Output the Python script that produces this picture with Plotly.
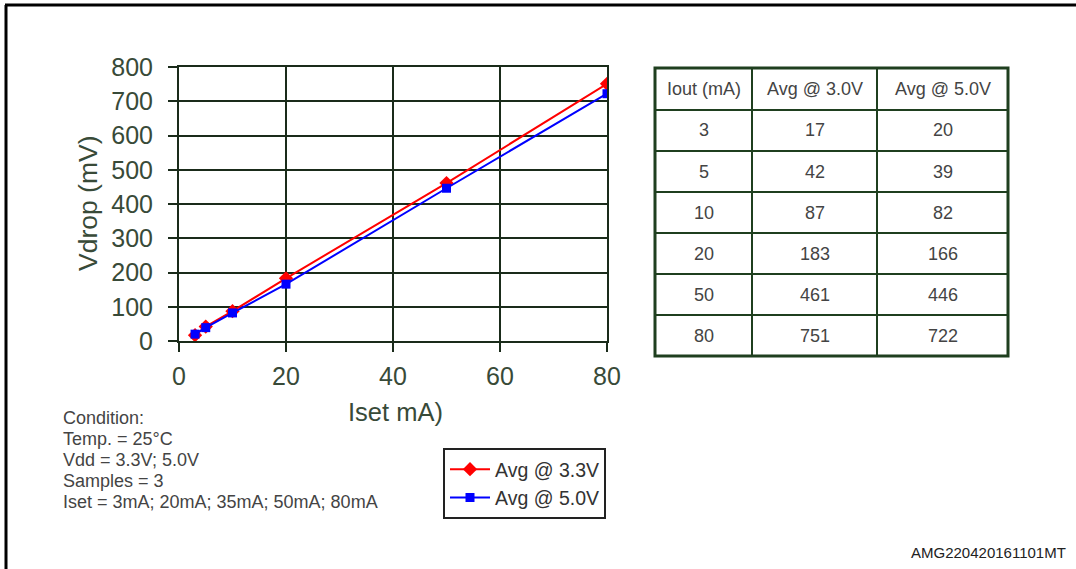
import plotly.graph_objects as go

iset = [3, 5, 10, 20, 50, 80]
avg_33 = [17, 42, 87, 183, 461, 751]
avg_50 = [20, 39, 82, 166, 446, 722]
x_ticks = [0, 20, 40, 60, 80]
y_ticks = [0, 100, 200, 300, 400, 500, 600, 700, 800]
table_header = ["Iout (mA)", "Avg @ 3.0V", "Avg @ 5.0V"]
table_iout = ["3", "5", "10", "20", "50", "80"]
table_avg30 = ["17", "42", "87", "183", "461", "751"]
table_avg50 = ["20", "39", "82", "166", "446", "722"]
condition_lines = ["Condition:", "Temp. = 25°C", "Vdd = 3.3V; 5.0V", "Samples = 3",
                   "Iset = 3mA; 20mA; 35mA; 50mA; 80mA"]

W, H = 1076, 569
FONT = "Liberation Sans, Arial, sans-serif"
GRID = "#1a2b1a"
TICKC = "#384a38"
TBL = "#1f3f1f"
TXT = "#444444"

def px(x):
    return x / W

def py(y):
    return 1 - y / H

fig = go.Figure()
fig.add_trace(go.Scatter(x=iset, y=avg_33, mode="lines+markers", name="Avg @ 3.3V",
                         legendgroup="a",
                         line=dict(color="#ff0000", width=2),
                         marker=dict(symbol="diamond", size=11, color="#ff0000")))
fig.add_trace(go.Scatter(x=iset, y=avg_50, mode="lines+markers", name="Avg @ 5.0V",
                         legendgroup="b",
                         line=dict(color="#0000ff", width=2),
                         marker=dict(symbol="square", size=9, color="#0000ff")))

fig.update_xaxes(range=[0, 80], tickvals=x_ticks, showgrid=True, gridcolor=GRID, gridwidth=2,
                 zeroline=False, showline=True, linecolor=GRID, linewidth=2, mirror=True,
                 ticks="outside", ticklen=9, tickwidth=2, tickcolor=GRID, automargin=False,
                 tickfont=dict(family=FONT, size=25, color=TICKC), ticklabelstandoff=3,
                 domain=[px(179), px(607)])
fig.update_yaxes(range=[0, 800], tickvals=y_ticks, showgrid=True, gridcolor=GRID, gridwidth=2,
                 zeroline=False, showline=True, linecolor=GRID, linewidth=2, mirror=True,
                 ticks="outside", ticklen=9, tickwidth=2, tickcolor=GRID, automargin=False,
                 tickfont=dict(family=FONT, size=25, color=TICKC), ticklabelstandoff=10,
                 domain=[py(341), py(67)])

annotations = [
    dict(text="Vdrop (mV)", x=px(88), y=py(204), textangle=-90,
         xanchor="center", yanchor="middle",
         font=dict(family=FONT, size=26.5, color=TICKC)),
    dict(text="Iset mA)", x=px(395), y=py(412), xanchor="center", yanchor="middle",
         font=dict(family=FONT, size=25.5, color=TICKC)),
    dict(text="AMG220420161101MT", x=px(1068), y=py(552), xanchor="right", yanchor="middle",
         font=dict(family=FONT, size=15, color="#222222")),
]
for i, line in enumerate(condition_lines):
    annotations.append(dict(text=line, x=px(61), y=py(418 + 21 * i),
                            xanchor="left", yanchor="middle",
                            font=dict(family=FONT, size=18, color=TXT)))

# table built from the arrays
col_edges = [655, 752, 877, 1008]
row_edges = [68, 110, 151, 192, 233, 274, 315, 356]
columns = [[table_header[0]] + table_iout,
           [table_header[1]] + table_avg30,
           [table_header[2]] + table_avg50]
for c, col in enumerate(columns):
    cx = (col_edges[c] + col_edges[c + 1]) / 2
    for r, val in enumerate(col):
        cy = (row_edges[r] + row_edges[r + 1]) / 2
        annotations.append(dict(text=val, x=px(cx), y=py(cy), xanchor="center", yanchor="middle",
                                font=dict(family=FONT, size=18, color=TXT)))
for a in annotations:
    a.update(xref="paper", yref="paper", showarrow=False)

shapes = [
    dict(type="line", xref="paper", yref="paper", x0=px(5), x1=1.05, y0=py(5), y1=py(5),
         line=dict(color="black", width=3)),
    dict(type="line", xref="paper", yref="paper", x0=px(6), x1=px(6), y0=py(5), y1=-0.05,
         line=dict(color="black", width=3)),
]
for xe in col_edges[1:-1]:
    shapes.append(dict(type="line", xref="paper", yref="paper", x0=px(xe), x1=px(xe),
                       y0=py(row_edges[-1]), y1=py(row_edges[0]), line=dict(color=TBL, width=2)))
for ye in row_edges[1:-1]:
    shapes.append(dict(type="line", xref="paper", yref="paper", x0=px(col_edges[0]),
                       x1=px(col_edges[-1]), y0=py(ye), y1=py(ye), line=dict(color=TBL, width=2)))
shapes.append(dict(type="rect", xref="paper", yref="paper", x0=px(col_edges[0]),
                   x1=px(col_edges[-1]), y0=py(row_edges[-1]), y1=py(row_edges[0]),
                   line=dict(color=TBL, width=3)))

fig.update_layout(
    width=W, height=H, margin=dict(l=0, r=0, t=0, b=0, pad=0, autoexpand=False),
    paper_bgcolor="white", plot_bgcolor="white",
    annotations=annotations, shapes=shapes,
    legend=dict(x=px(443), y=py(448), xanchor="left", yanchor="top",
                bordercolor="#222222", borderwidth=2, bgcolor="white",
                font=dict(family=FONT, size=19.5, color="#333333"),
                tracegroupgap=3, itemwidth=40, traceorder="normal"),
    showlegend=True,
)

fig.write_html("out.html", config={"displayModeBar": False},
               post_script="document.body.style.margin='0';document.body.style.overflow='hidden';")
